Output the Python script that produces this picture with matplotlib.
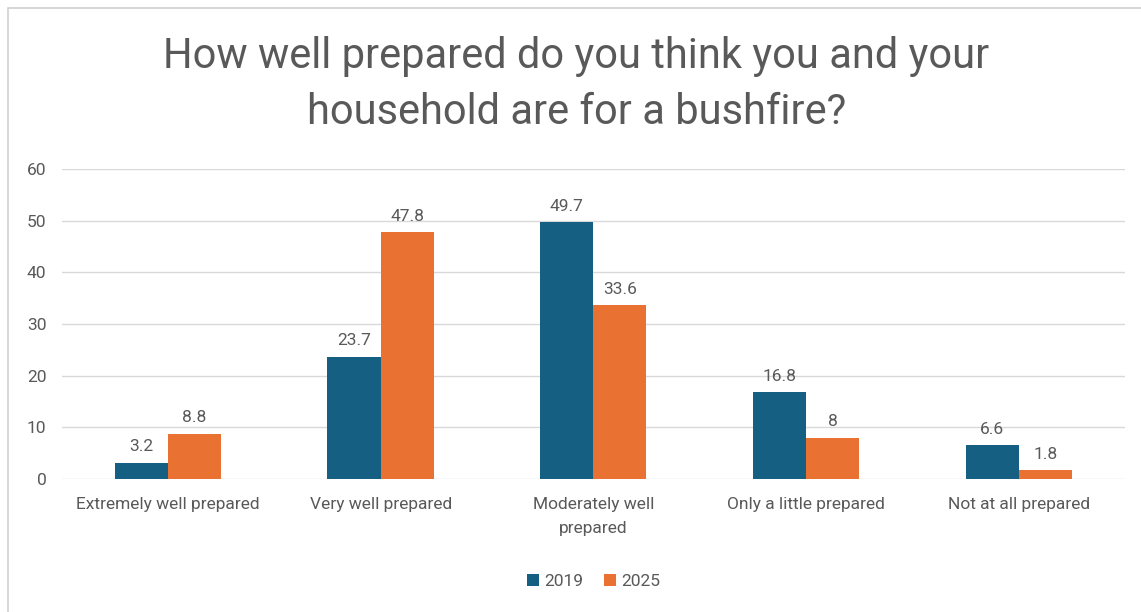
import numpy as np
import matplotlib.pyplot as plt
from matplotlib.patches import Rectangle

categories = ["Extremely well prepared", "Very well prepared", "Moderately well\nprepared",
              "Only a little prepared", "Not at all prepared"]
years = ["2019", "2025"]
values_2019 = [3.2, 23.7, 49.7, 16.8, 6.6]
values_2025 = [8.8, 47.8, 33.6, 8, 1.8]
colors = ["#156082", "#E97132"]
grey = "#595959"

plt.rcParams['font.family'] = ['Roboto', 'DejaVu Sans']

fig = plt.figure(figsize=(11.41, 6.12), dpi=100)
fig.patches.append(Rectangle((0.007, -0.01), 1.0, 0.997, transform=fig.transFigure,
                             fill=False, edgecolor="#d0d0d0", linewidth=1.2))
ax = fig.add_axes([0.054, 0.217, 0.932, 0.507])

x = np.arange(len(categories))
w = 0.25
b1 = ax.bar(x - w / 2, values_2019, w, color=colors[0], label=years[0])
b2 = ax.bar(x + w / 2, values_2025, w, color=colors[1], label=years[1])
for bars, vals in ((b1, values_2019), (b2, values_2025)):
    for rect, v in zip(bars, vals):
        ax.annotate(f"{v:g}", (rect.get_x() + rect.get_width() / 2, v),
                    xytext=(0, 6), textcoords="offset points",
                    ha="center", va="bottom", fontsize=12.5, color=grey)

ax.set_xlim(-0.5, len(categories) - 0.5)
ax.set_ylim(0, 60)
ax.set_yticks(range(0, 61, 10))
ax.set_xticks(x)
ax.set_xticklabels(categories, fontsize=12.5, color=grey, linespacing=1.7)
ax.tick_params(axis="y", labelsize=12.5, labelcolor=grey, length=0, pad=11)
ax.tick_params(axis="x", length=0, pad=13)
ax.grid(axis="y", color="#d9d9d9", linewidth=1)
ax.set_axisbelow(True)
for s in ax.spines.values():
    s.set_visible(False)

fig.text(0.505, 0.862, "How well prepared do you think you and your\nhousehold are for a bushfire?",
         ha="center", va="center", fontsize=30, color=grey, linespacing=1.45)

ax.legend(loc="upper center", bbox_to_anchor=(0.5, -0.255), ncol=2, frameon=False,
          fontsize=12.5, labelcolor=grey, handlelength=0.7, handleheight=0.7,
          handletextpad=0.3, columnspacing=1.2)

fig.savefig("out.png", dpi=100)
